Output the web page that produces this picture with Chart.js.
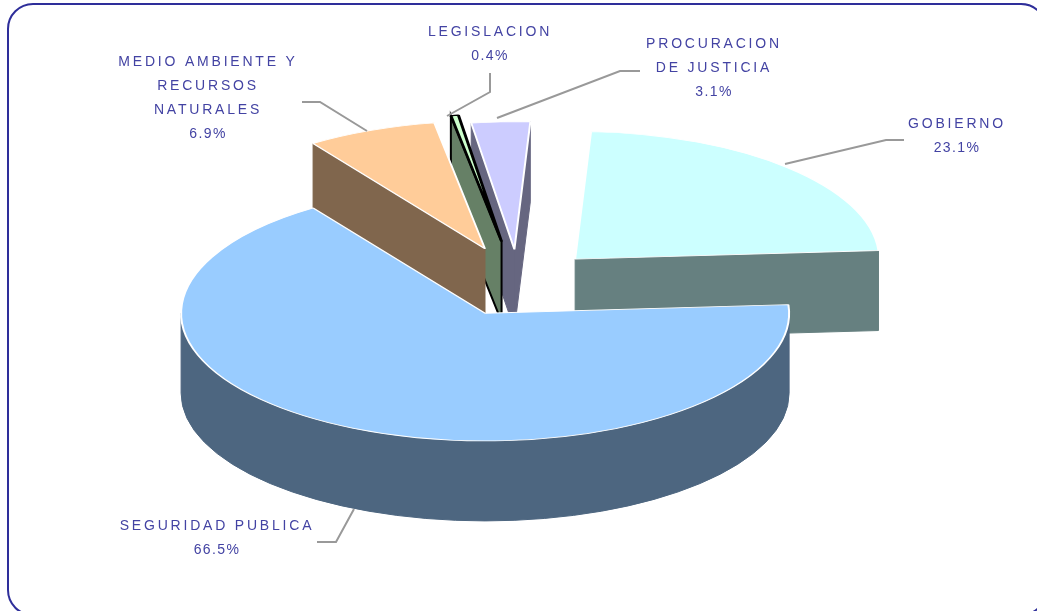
<!DOCTYPE html>
<html>
<head>
<meta charset="utf-8">
<title>Pie</title>
<script src="https://cdn.jsdelivr.net/npm/chart.js@4"></script>
<style>
  html, body { margin: 0; padding: 0; background: #fff; overflow: hidden; }
  #wrap { position: relative; width: 1037px; height: 611px; overflow: hidden; }
  #frame {
    position: absolute; left: 7px; top: 3px; width: 1036px; height: 609px;
    border: 2px solid #2e2e9a; border-radius: 26px; box-sizing: content-box;
  }
  #canvas { position: absolute; left: 0; top: 0; }
</style>
</head>
<body>
<div id="wrap">
  <div id="frame"></div>
  <canvas id="canvas" width="1037" height="611"></canvas>
</div>
<script>
// DATA
const categories = ['GOBIERNO', 'SEGURIDAD PUBLICA', 'MEDIO AMBIENTE Y RECURSOS NATURALES', 'LEGISLACION', 'PROCURACION DE JUSTICIA'];
const values = [23.1, 66.5, 6.9, 0.4, 3.1];
const nameLines = [['GOBIERNO'], ['SEGURIDAD PUBLICA'], ['MEDIO AMBIENTE Y', 'RECURSOS', 'NATURALES'], ['LEGISLACION'], ['PROCURACION', 'DE JUSTICIA']];

// STYLE
const topColors = ['#ccffff', '#99ccff', '#ffcc99', '#ccffcc', '#ccccff'];
const wallColors = ['#668080', '#4d6680', '#80664d', '#668066', '#666680'];
const edgeColors = ['#ffffff', '#ffffff', '#ffffff', '#000000', '#ffffff'];
const edgeWidths = [2, 2, 2, 3, 2];
const explode = [80, 80, 88, 100, 80];
const nudgeX = [1, 2, 0, -1, 0];
const wallOrder = [0, 4, 3, 2, 1]; // back to front

// where the squashed pie sits on the page
const pieX = 518, pieY = 283, squash = 0.42, depth = 80, radius = 304;

// label anchor (center x, first line y) and leader lines
const labelPos = [[957, 124], [217, 526], [208, 62], [490, 32], [714, 44]];
const leaders = [
  [[785, 164], [886, 140], [904, 140]],
  [[354, 509], [336, 542], [317, 542]],
  [[367, 131], [320, 102], [302, 102]],
  [[447, 116], [490, 92], [490, 73]],
  [[497, 118], [620, 71], [640, 71]]
];

// page position of the tip of a slice
function sliceTip(arc, i) {
  const mid = (arc.startAngle + arc.endAngle) / 2;
  return { x: pieX + nudgeX[i] + Math.cos(mid) * explode[i], y: pieY + Math.sin(mid) * explode[i] * squash };
}

function cutFace(ctx, tip, a, r) {
  const rx = tip.x + Math.cos(a) * r;
  const ry = tip.y + Math.sin(a) * r * squash;
  ctx.beginPath();
  ctx.moveTo(tip.x, tip.y);
  ctx.lineTo(rx, ry);
  ctx.lineTo(rx, ry + depth);
  ctx.lineTo(tip.x, tip.y + depth);
  ctx.closePath();
  ctx.fill();
  ctx.stroke();
}

function drawWalls(ctx, arc, i) {
  const tip = sliceTip(arc, i);
  const r = arc.outerRadius;
  ctx.fillStyle = wallColors[i];
  ctx.strokeStyle = i === 3 ? '#000000' : wallColors[i];
  ctx.lineWidth = i === 3 ? 2 : 1;

  // cut faces, only the ones turned to the viewer
  if (Math.cos(arc.startAngle) < 0) cutFace(ctx, tip, arc.startAngle, r);
  if (Math.cos(arc.endAngle) > 0) cutFace(ctx, tip, arc.endAngle, r);

  // outer rim, only the part that looks at us
  for (let n = -1; n <= 1; n++) {
    const lo = Math.max(arc.startAngle, n * 2 * Math.PI);
    const hi = Math.min(arc.endAngle, Math.PI + n * 2 * Math.PI);
    if (hi > lo) {
      ctx.beginPath();
      ctx.ellipse(tip.x, tip.y, r, r * squash, 0, lo, hi, false);
      ctx.ellipse(tip.x, tip.y + depth, r, r * squash, 0, hi, lo, true);
      ctx.closePath();
      ctx.fill();
      ctx.stroke();
    }
  }
}

// 3D LOOK: walls first and then the library's own arcs, squashed and pulled apart
const pie3d = {
  id: 'pie3d',
  beforeDatasetDraw(chart, args) {
    const ctx = chart.ctx;
    const arcs = chart.getDatasetMeta(args.index).data;
    wallOrder.forEach(i => {
      ctx.save();
      drawWalls(ctx, arcs[i], i);
      ctx.restore();
    });
    arcs.forEach((arc, i) => {
      const tip = sliceTip(arc, i);
      ctx.save();
      ctx.translate(tip.x, tip.y);
      ctx.scale(1, squash);
      ctx.translate(-arc.x, -arc.y);
      arc.draw(ctx);
      ctx.restore();
    });
    return false;
  }
};

// LABELS
const pieLabels = {
  id: 'pieLabels',
  afterDraw(chart) {
    const ctx = chart.ctx;
    ctx.save();
    ctx.strokeStyle = '#999999';
    ctx.lineWidth = 2;
    leaders.forEach(line => {
      ctx.beginPath();
      line.forEach((p, n) => n ? ctx.lineTo(p[0], p[1]) : ctx.moveTo(p[0], p[1]));
      ctx.stroke();
    });
    ctx.fillStyle = '#4343a3';
    ctx.textAlign = 'center';
    ctx.textBaseline = 'middle';
    ctx.font = '14px "Liberation Sans"';
    categories.forEach((name, i) => {
      let y = labelPos[i][1];
      ctx.letterSpacing = '2.8px';
      nameLines[i].forEach(line => {
        ctx.fillText(line, labelPos[i][0], y);
        y += 24;
      });
      ctx.letterSpacing = '1.4px';
      ctx.fillText(values[i].toFixed(1) + '%', labelPos[i][0], y);
    });
    ctx.restore();
  }
};

var ctx = document.getElementById('canvas').getContext('2d');
window.myPie = new Chart(ctx, {
  type: 'pie',
  data: {
    labels: categories,
    datasets: [{
      data: values,
      backgroundColor: topColors,
      borderColor: edgeColors,
      borderWidth: edgeWidths,
      radius: radius,
      rotation: 3
    }]
  },
  options: {
    responsive: false,
    animation: false,
    events: [],
    plugins: { legend: { display: false }, tooltip: { enabled: false } }
  },
  plugins: [pie3d, pieLabels]
});
</script>
</body>
</html>
